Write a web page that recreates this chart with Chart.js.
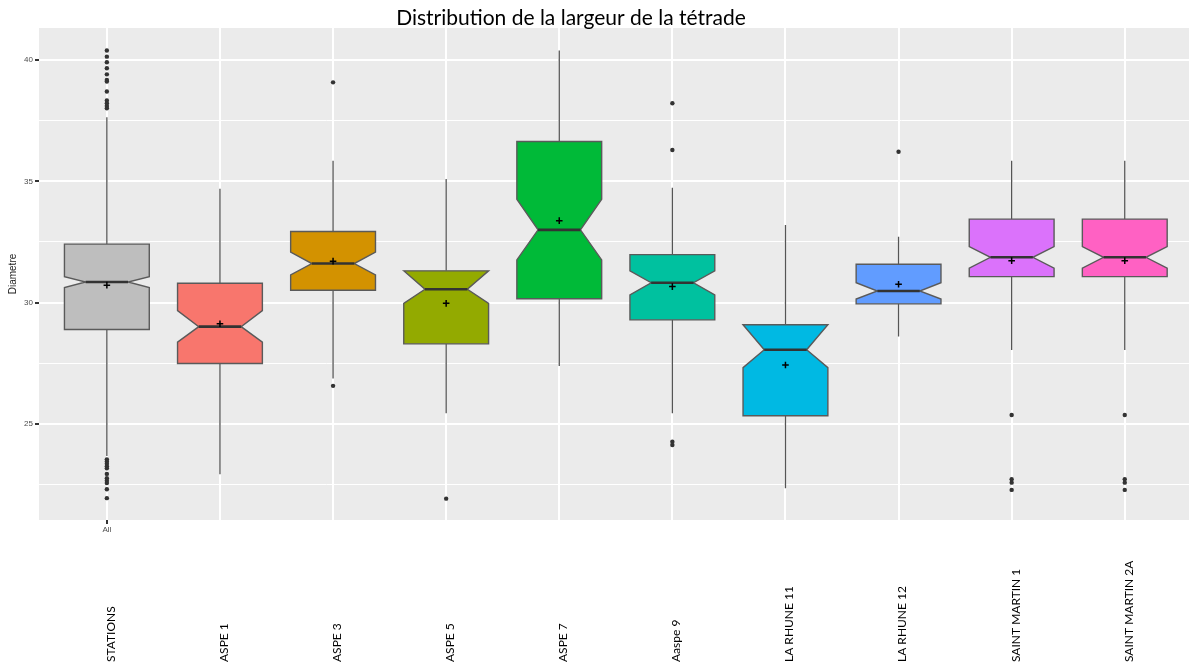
<!DOCTYPE html>
<html>
<head>
<meta charset="utf-8">
<script src="https://cdn.jsdelivr.net/npm/chart.js@4.4.1/dist/chart.umd.min.js"></script>
<style>
  html, body { margin: 0; padding: 0; background: #ffffff; }
  #wrap { width: 1189px; height: 668px; position: relative; }
</style>
</head>
<body>
<div id="wrap"><canvas id="boxChart"></canvas></div>
<script>
// stations (one notched box each), left to right
const stations = ['STATIONS', 'ASPE 1', 'ASPE 3', 'ASPE 5', 'ASPE 7', 'Aaspe 9',
  'LA RHUNE 11', 'LA RHUNE 12', 'SAINT MARTIN 1', 'SAINT MARTIN 2A']
const groupLabel = 'All'

// box statistics (diametre)
const whiskerLow  = [23.68, 22.93, 26.87, 25.44, 27.39, 25.44, 22.35, 28.60, 28.05, 28.05]
const q1          = [28.89, 27.49, 30.51, 28.30, 30.16, 29.29, 25.34, 29.95, 31.07, 31.07]
const notchLow    = [30.62, 28.37, 31.14, 29.97, 31.76, 30.32, 27.32, 30.15, 31.42, 31.42]
const medians     = [30.85, 29.01, 31.61, 30.55, 33.00, 30.82, 28.06, 30.48, 31.87, 31.87]
const notchHigh   = [31.07, 29.67, 32.08, 31.31, 34.26, 31.31, 29.09, 30.82, 32.31, 32.31]
const q3          = [32.41, 30.80, 32.93, 31.31, 36.64, 31.98, 29.09, 31.58, 33.44, 33.44]
const whiskerHigh = [37.64, 34.69, 35.85, 35.10, 40.39, 34.74, 33.20, 32.72, 35.85, 35.85]
const means       = [30.72, 29.13, 31.71, 29.97, 33.38, 30.66, 27.43, 30.76, 31.73, 31.73]

// outliers per station
const outliers = [
  [40.39, 40.14, 39.91, 39.66, 39.41, 39.18, 39.11, 38.70, 38.33, 38.22, 38.11, 38.01,
   23.54, 23.45, 23.36, 23.26, 23.17, 22.94, 22.76, 22.66, 22.56, 22.31, 21.94],
  [],
  [39.08, 26.57],
  [21.92],
  [],
  [38.22, 36.29, 24.27, 24.13],
  [],
  [36.22],
  [25.37, 22.72, 22.58, 22.28],
  [25.37, 22.72, 22.58, 22.28]
]

const fills = ['#BEBEBE', '#F8766D', '#D39200', '#93AA00', '#00BA38', '#00C19F',
  '#00B9E3', '#619CFF', '#DB72FB', '#FF61C3']

const yTicks = [22.5, 25, 27.5, 30, 32.5, 35, 37.5, 40]

const outlierPoints = []
outliers.forEach((vals, i) => vals.forEach(v => outlierPoints.push({x: i, y: v})))
const meanPoints = means.map((v, i) => ({x: i, y: v}))

const BOX_HALF = 0.375
const NOTCH_HALF = 0.1875

// grey panel behind the grid
const panelBg = {
  id: 'panelBg',
  beforeDraw(chart) {
    const {ctx, chartArea: a} = chart
    ctx.save()
    ctx.fillStyle = '#EBEBEB'
    ctx.fillRect(a.left, a.top, a.right - a.left, a.bottom - a.top)
    ctx.restore()
  }
}

// whiskers and notched boxes
const notchedBoxes = {
  id: 'notchedBoxes',
  beforeDatasetsDraw(chart) {
    const {ctx, chartArea: a} = chart
    const xs = chart.scales.x, ys = chart.scales.y
    ctx.save()
    ctx.beginPath()
    ctx.rect(a.left, a.top, a.right - a.left, a.bottom - a.top)
    ctx.clip()
    stations.forEach((s, i) => {
      const cx = xs.getPixelForValue(i)
      const x0 = xs.getPixelForValue(i - BOX_HALF)
      const x1 = xs.getPixelForValue(i + BOX_HALF)
      const n0 = xs.getPixelForValue(i - NOTCH_HALF)
      const n1 = xs.getPixelForValue(i + NOTCH_HALF)
      const y = v => ys.getPixelForValue(v)

      ctx.strokeStyle = '#555555'
      ctx.lineWidth = 1.3
      ctx.beginPath()
      ctx.moveTo(cx, y(q3[i])); ctx.lineTo(cx, y(whiskerHigh[i]))
      ctx.moveTo(cx, y(q1[i])); ctx.lineTo(cx, y(whiskerLow[i]))
      ctx.stroke()

      ctx.beginPath()
      ctx.moveTo(x0, y(q3[i]))
      ctx.lineTo(x0, y(notchHigh[i]))
      ctx.lineTo(n0, y(medians[i]))
      ctx.lineTo(x0, y(notchLow[i]))
      ctx.lineTo(x0, y(q1[i]))
      ctx.lineTo(x1, y(q1[i]))
      ctx.lineTo(x1, y(notchLow[i]))
      ctx.lineTo(n1, y(medians[i]))
      ctx.lineTo(x1, y(notchHigh[i]))
      ctx.lineTo(x1, y(q3[i]))
      ctx.closePath()
      ctx.fillStyle = fills[i]
      ctx.fill()
      ctx.strokeStyle = '#5a5a5a'
      ctx.lineWidth = 1.4
      ctx.stroke()

      ctx.beginPath()
      ctx.moveTo(n0, y(medians[i])); ctx.lineTo(n1, y(medians[i]))
      ctx.strokeStyle = '#333333'
      ctx.lineWidth = 2.6
      ctx.stroke()
    })
    ctx.restore()
  }
}

// title and the rotated station names under the panel
const annotations = {
  id: 'annotations',
  afterDraw(chart) {
    const {ctx} = chart
    const xs = chart.scales.x
    ctx.save()
    ctx.fillStyle = '#000000'
    ctx.font = '21px Lato, "Open Sans", sans-serif'
    ctx.textAlign = 'center'
    ctx.textBaseline = 'middle'
    ctx.fillText('Distribution de la largeur de la tétrade', 571, 18)

    ctx.font = '12px Lato, "Open Sans", sans-serif'
    ctx.textAlign = 'left'
    stations.forEach((s, i) => {
      ctx.save()
      ctx.translate(xs.getPixelForValue(i) + 4, 662)
      ctx.rotate(-Math.PI / 2)
      ctx.fillText(s, 0, 0)
      ctx.restore()
    })
    ctx.restore()
  }
}

const config = {
  type: 'scatter',
  data: {
    datasets: [
      {
        label: 'outliers',
        data: outlierPoints,
        pointStyle: 'circle',
        pointRadius: 2.2,
        backgroundColor: '#333333',
        borderColor: '#333333',
        borderWidth: 0
      },
      {
        label: 'moyenne',
        data: meanPoints,
        pointStyle: 'cross',
        pointRadius: 3.3,
        borderColor: '#000000',
        borderWidth: 1.5
      }
    ]
  },
  options: {
    responsive: true,
    maintainAspectRatio: false,
    animation: false,
    layout: { autoPadding: false, padding: { top: 28, left: 0, right: 0, bottom: 0 } },
    plugins: {
      legend: { display: false },
      tooltip: { enabled: false },
      title: { display: false }
    },
    scales: {
      x: {
        type: 'linear',
        min: -0.6,
        max: 9.568,
        afterBuildTicks: scale => { scale.ticks = stations.map((s, i) => ({value: i})) },
        afterFit: scale => { scale.height = 148 },
        border: { display: false },
        grid: {
          color: '#ffffff',
          lineWidth: 2,
          tickLength: 4,
          tickColor: ctx => ctx.index === 0 ? '#333333' : 'rgba(0,0,0,0)'
        },
        ticks: {
          autoSkip: false,
          maxRotation: 0,
          padding: 1,
          color: '#4D4D4D',
          font: { family: '"Liberation Sans", sans-serif', size: 8 },
          callback: (v, i) => i === 0 ? groupLabel : ''
        }
      },
      y: {
        min: 21.04,
        max: 41.32,
        afterBuildTicks: scale => { scale.ticks = yTicks.map(v => ({value: v})) },
        afterFit: scale => { scale.width = 39 },
        border: { display: false },
        grid: {
          color: '#ffffff',
          lineWidth: ctx => (ctx.tick && ctx.tick.value % 5 === 0) ? 2 : 1,
          tickLength: 4,
          tickColor: ctx => (ctx.tick && ctx.tick.value % 5 === 0) ? '#333333' : 'rgba(0,0,0,0)'
        },
        ticks: {
          padding: 2,
          color: '#4D4D4D',
          font: { family: '"Liberation Sans", sans-serif', size: 8 },
          callback: v => v % 5 === 0 ? String(v) : ''
        },
        title: {
          display: true,
          text: 'Diametre',
          color: '#1a1a1a',
          padding: { top: 7, bottom: 0 },
          font: { family: '"Liberation Sans Narrow", "Liberation Sans", sans-serif', size: 10 }
        }
      }
    }
  },
  plugins: [panelBg, notchedBoxes, annotations]
}

const boxChart = new Chart(document.getElementById('boxChart'), config)
</script>
</body>
</html>
